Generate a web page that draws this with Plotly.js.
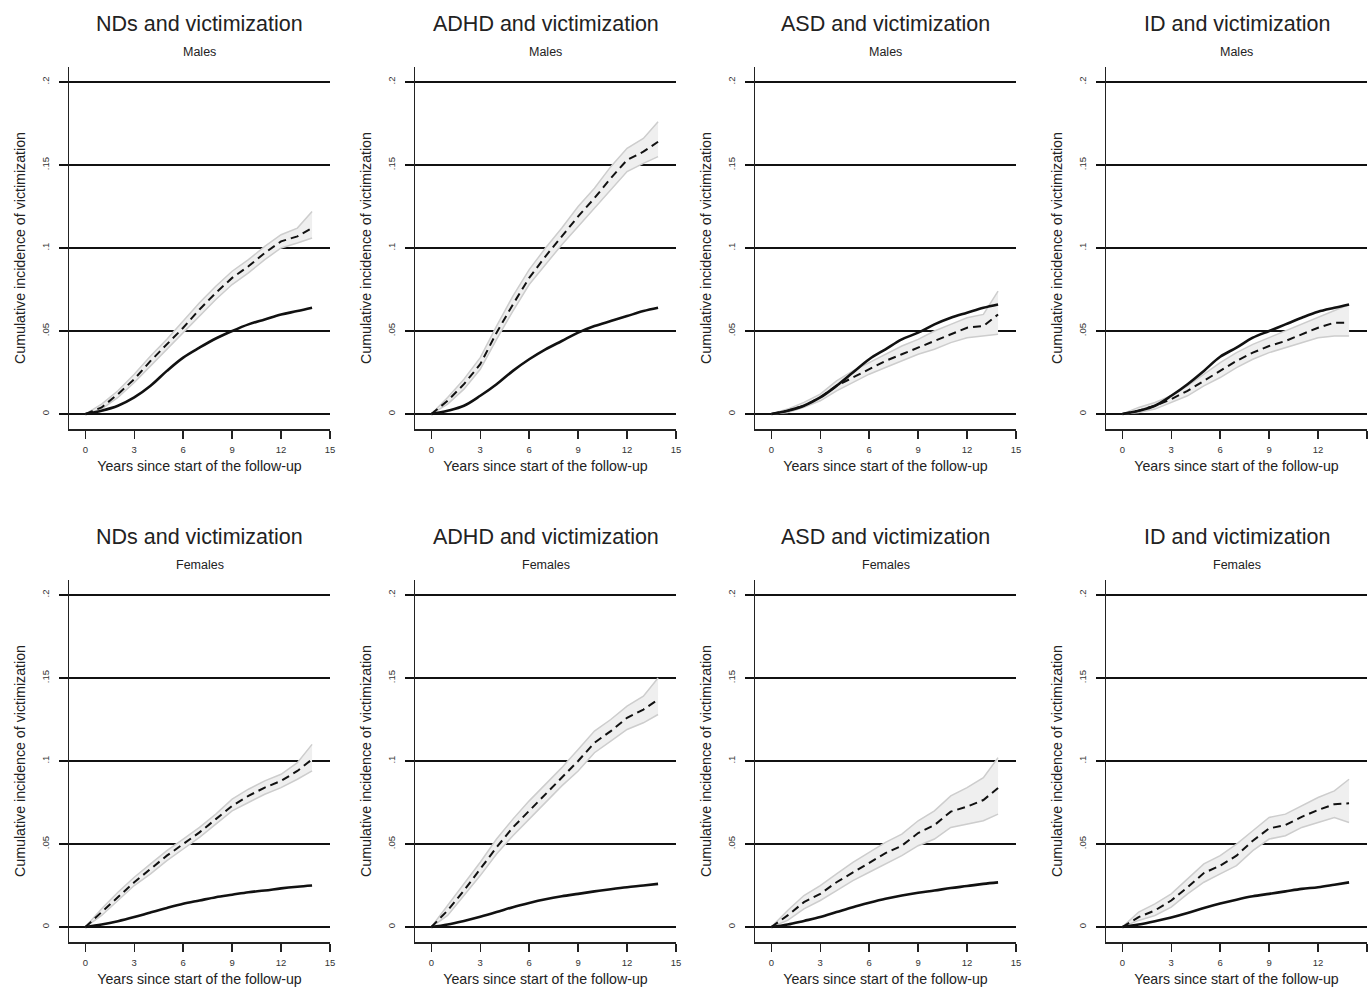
<!DOCTYPE html>
<html>
<head>
<meta charset="utf-8">
<script src="https://cdn.plot.ly/plotly-3.0.1.min.js"></script>
<style>html,body{margin:0;padding:0;background:#fff;}#chart{width:1368px;height:989px;}</style>
</head>
<body>
<div id="chart"></div>
<script>
// ---------- data ----------
const years = [0,1,2,3,4,5,6,7,8,9,10,11,12,13,13.9];

const panelTitles = ["NDs and victimization","ADHD and victimization","ASD and victimization","ID and victimization"];
const rowLabels = ["Males","Females"];
const xTickVals = [0,3,6,9,12,15];
const xTickText = ["0","3","6","9","12","15"];
const yTickVals = [0,0.05,0.1,0.15,0.2];
const yTickText = ["0",".05",".1",".15",".2"];
const xTitle = "Years since start of the follow-up";
const yTitle = "Cumulative incidence of victimization";

// Males
const ndsMaleRef   = [0,0.002,0.005,0.010,0.017,0.026,0.034,0.040,0.0455,0.050,0.054,0.057,0.060,0.062,0.064];
const ndsMale      = [0,0.004,0.012,0.021,0.032,0.042,0.052,0.063,0.073,0.082,0.089,0.097,0.104,0.107,0.112];
const ndsMaleLo    = [0,0.003,0.010,0.019,0.029,0.039,0.049,0.059,0.069,0.078,0.085,0.093,0.100,0.103,0.106];
const ndsMaleHi    = [0,0.006,0.014,0.024,0.035,0.045,0.056,0.067,0.077,0.086,0.093,0.101,0.108,0.112,0.122];

const adhdMaleRef  = [0,0.002,0.005,0.011,0.018,0.026,0.033,0.039,0.044,0.049,0.053,0.056,0.059,0.062,0.064];
const adhdMale     = [0,0.008,0.018,0.030,0.049,0.066,0.082,0.095,0.107,0.119,0.130,0.142,0.153,0.158,0.164];
const adhdMaleLo   = [0,0.006,0.015,0.027,0.045,0.062,0.078,0.090,0.102,0.113,0.124,0.135,0.146,0.151,0.155];
const adhdMaleHi   = [0,0.010,0.021,0.034,0.053,0.071,0.087,0.100,0.112,0.125,0.136,0.149,0.160,0.166,0.176];

const asdMaleRef   = [0,0.002,0.005,0.010,0.017,0.025,0.033,0.039,0.045,0.049,0.054,0.058,0.061,0.064,0.066];
const asdMale      = [0,0.002,0.005,0.010,0.017,0.022,0.027,0.032,0.036,0.040,0.044,0.048,0.052,0.053,0.060];
const asdMaleLo    = [0,0.001,0.004,0.008,0.014,0.019,0.024,0.028,0.032,0.036,0.039,0.043,0.046,0.047,0.048];
const asdMaleHi    = [0,0.003,0.007,0.012,0.020,0.026,0.031,0.036,0.041,0.045,0.050,0.054,0.058,0.060,0.074];

const idMaleRef    = [0,0.002,0.005,0.011,0.018,0.026,0.0345,0.040,0.046,0.050,0.054,0.058,0.0616,0.064,0.066];
const idMale       = [0,0.002,0.005,0.009,0.014,0.020,0.026,0.032,0.037,0.041,0.044,0.048,0.052,0.055,0.055];
const idMaleLo     = [0,0.001,0.003,0.007,0.011,0.017,0.022,0.028,0.033,0.037,0.040,0.043,0.046,0.047,0.047];
const idMaleHi     = [0,0.004,0.007,0.011,0.017,0.024,0.031,0.037,0.042,0.046,0.050,0.054,0.058,0.062,0.066];

// Females
const ndsFemRef    = [0,0.0015,0.0035,0.006,0.0088,0.0115,0.014,0.016,0.018,0.0195,0.021,0.022,0.0233,0.0243,0.025];
const ndsFem       = [0,0.009,0.018,0.027,0.035,0.043,0.050,0.057,0.065,0.073,0.079,0.084,0.088,0.094,0.101];
const ndsFemLo     = [0,0.007,0.016,0.025,0.032,0.040,0.047,0.054,0.062,0.070,0.075,0.080,0.084,0.089,0.094];
const ndsFemHi     = [0,0.011,0.021,0.030,0.038,0.046,0.053,0.060,0.068,0.077,0.083,0.088,0.092,0.099,0.110];

const adhdFemRef   = [0,0.0015,0.0037,0.0062,0.009,0.012,0.0145,0.0167,0.0185,0.020,0.0215,0.0228,0.024,0.025,0.026];
const adhdFem      = [0,0.010,0.022,0.035,0.048,0.060,0.070,0.080,0.090,0.100,0.111,0.118,0.126,0.131,0.137];
const adhdFemLo    = [0,0.007,0.019,0.031,0.044,0.055,0.065,0.075,0.085,0.094,0.105,0.112,0.119,0.123,0.128];
const adhdFemHi    = [0,0.013,0.026,0.039,0.053,0.065,0.076,0.086,0.096,0.107,0.118,0.125,0.133,0.139,0.150];

const asdFemRef    = [0,0.0015,0.0037,0.006,0.009,0.012,0.0146,0.017,0.019,0.0207,0.022,0.0235,0.0247,0.026,0.0269];
const asdFem       = [0,0.007,0.015,0.020,0.027,0.033,0.039,0.0445,0.049,0.0566,0.0614,0.0695,0.0725,0.0765,0.0837];
const asdFemLo     = [0,0.004,0.011,0.016,0.022,0.028,0.033,0.038,0.043,0.049,0.053,0.060,0.062,0.064,0.068];
const asdFemHi     = [0,0.010,0.019,0.025,0.032,0.039,0.045,0.051,0.056,0.064,0.070,0.079,0.084,0.090,0.102];

const idFemRef     = [0,0.0015,0.0035,0.0058,0.0085,0.0115,0.0142,0.0165,0.0185,0.020,0.0215,0.023,0.024,0.0255,0.0269];
const idFem        = [0,0.006,0.010,0.016,0.024,0.0325,0.037,0.043,0.052,0.0594,0.0614,0.0664,0.0705,0.074,0.0745];
const idFemLo      = [0,0.004,0.007,0.012,0.020,0.027,0.032,0.037,0.046,0.053,0.055,0.060,0.063,0.066,0.063];
const idFemHi      = [0,0.009,0.014,0.020,0.029,0.038,0.043,0.050,0.058,0.066,0.068,0.073,0.078,0.082,0.089];

const panels = [
  {ref: ndsMaleRef,  nd: ndsMale,  lo: ndsMaleLo,  hi: ndsMaleHi},
  {ref: adhdMaleRef, nd: adhdMale, lo: adhdMaleLo, hi: adhdMaleHi},
  {ref: asdMaleRef,  nd: asdMale,  lo: asdMaleLo,  hi: asdMaleHi},
  {ref: idMaleRef,   nd: idMale,   lo: idMaleLo,   hi: idMaleHi},
  {ref: ndsFemRef,   nd: ndsFem,   lo: ndsFemLo,   hi: ndsFemHi},
  {ref: adhdFemRef,  nd: adhdFem,  lo: adhdFemLo,  hi: adhdFemHi},
  {ref: asdFemRef,   nd: asdFem,   lo: asdFemLo,   hi: asdFemHi},
  {ref: idFemRef,    nd: idFem,    lo: idFemLo,    hi: idFemHi}
];

// ---------- layout ----------
const W = 1368, H = 989;
const colPx = [[69,330],[415,676],[755,1016],[1106,1367]];
const rowPx = [[67,429],[580,942]];
const FONT = "Liberation Sans, Arial, Helvetica, sans-serif";

const traces = [];
const layout = {
  width: W, height: H,
  margin: {l:0, r:0, t:0, b:0},
  paper_bgcolor: "#fff", plot_bgcolor: "#fff",
  showlegend: false,
  font: {family: FONT, color: "#222"},
  annotations: []
};

panels.forEach((p, i) => {
  const r = Math.floor(i / 4), c = i % 4;
  const n = i + 1;
  const xa = "x" + (n === 1 ? "" : n), ya = "y" + (n === 1 ? "" : n);
  const xk = "xaxis" + (n === 1 ? "" : n), yk = "yaxis" + (n === 1 ? "" : n);

  traces.push({x: years, y: p.lo, xaxis: xa, yaxis: ya, mode: "lines",
    line: {color: "#cdcdcd", width: 1.5}, hoverinfo: "skip"});
  traces.push({x: years, y: p.hi, xaxis: xa, yaxis: ya, mode: "lines", fill: "tonexty",
    fillcolor: "#efefef", line: {color: "#cdcdcd", width: 1.5}, hoverinfo: "skip"});
  traces.push({x: years, y: p.nd, xaxis: xa, yaxis: ya, mode: "lines",
    line: {color: "#111", width: 2, dash: "8px,5px"}});
  traces.push({x: years, y: p.ref, xaxis: xa, yaxis: ya, mode: "lines",
    line: {color: "#111", width: 2.6, shape: "spline", smoothing: 1}});

  const [x0, x1] = colPx[c], [y0, y1] = rowPx[r];
  layout[xk] = {
    domain: [x0 / W, x1 / W], anchor: ya, range: [-1, 15],
    tickmode: "array", tickvals: xTickVals, ticktext: xTickText,
    ticks: "outside", ticklen: 8, tickwidth: 1.5, tickcolor: "#222",
    ticklabelstandoff: 3,
    showline: true, linecolor: "#222", linewidth: 1.5,
    showgrid: false, zeroline: false,
    tickfont: {size: 9.5, color: "#333", family: FONT},
    title: {text: xTitle, font: {size: 14.2, color: "#222", family: FONT}, standoff: 7},
    fixedrange: true
  };
  layout[yk] = {
    domain: [1 - y1 / H, 1 - y0 / H], anchor: xa, range: [-0.009, 0.209],
    tickmode: "array", tickvals: yTickVals, ticktext: yTickText, tickangle: -90,
    ticks: "outside", ticklen: 9, tickwidth: 2, tickcolor: "#111",
    ticklabelstandoff: 6,
    showline: true, linecolor: "#222", linewidth: 1.5,
    showgrid: true, gridcolor: "#111", gridwidth: 2, zeroline: false,
    tickfont: {size: 9.5, color: "#333", family: FONT},
    title: {text: yTitle, font: {size: 14.2, color: "#222", family: FONT}, standoff: 10},
    fixedrange: true
  };

  const cx = (x0 + x1) / 2 / W;
  layout.annotations.push({
    xref: "paper", yref: "paper", x: cx, y: 1 - (r === 0 ? 24 : 537) / H,
    text: panelTitles[c], showarrow: false, xanchor: "center", yanchor: "middle",
    font: {size: 21.5, color: "#222", family: FONT}
  });
  layout.annotations.push({
    xref: "paper", yref: "paper", x: cx, y: 1 - (r === 0 ? 52 : 565) / H,
    text: rowLabels[r], showarrow: false, xanchor: "center", yanchor: "middle",
    font: {size: 12.5, color: "#222", family: FONT}
  });
});

Plotly.newPlot("chart", traces, layout, {displayModeBar: false, staticPlot: true});
</script>
</body>
</html>
